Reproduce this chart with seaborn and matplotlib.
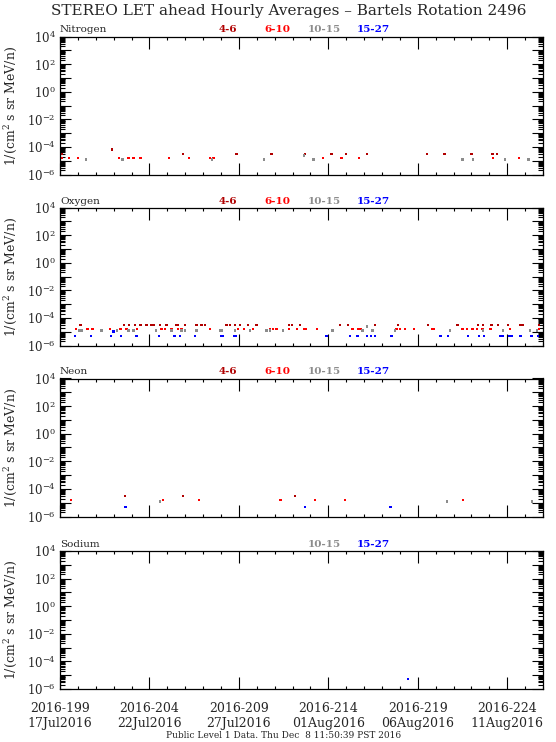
import datetime as dt
import numpy as np
import pandas as pd
import matplotlib
matplotlib.use("Agg")
import matplotlib.pyplot as plt
import seaborn as sns
from matplotlib.ticker import FixedLocator, FuncFormatter, NullFormatter

# ---------------- data (day of year 2016, flux 1/(cm^2 s sr MeV/n)) ----------------
CHANNELS = ["4-6", "6-10", "10-15", "15-27"]
CH_COLORS = ["#b00000", "#ff0000", "#8c8c8c", "#0000ff"]
ELEMENTS = ["Nitrogen", "Oxygen", "Neon", "Sodium"]

N_46_DAY = [199.10, 201.90, 205.87, 208.87, 210.83, 212.70, 214.18, 215.00, 216.17,
            219.50, 220.50, 222.00, 223.17, 223.43]
N_46_VAL = [3.0e-5, 6.5e-5, 3.0e-5, 3.0e-5, 3.0e-5, 3.0e-5, 3.0e-5, 3.0e-5, 3.0e-5,
            3.0e-5, 3.0e-5, 3.0e-5, 3.0e-5, 3.0e-5]
N_610_DAY = [199.10, 199.50, 199.99, 202.30, 202.84, 203.10, 203.50, 205.10, 206.20,
             207.40, 207.57, 213.70, 214.74, 215.70, 223.20, 224.66]
N_610_VAL = [1.6e-5, 1.6e-5, 1.6e-5, 1.6e-5, 1.6e-5, 1.6e-5, 1.6e-5, 1.6e-5, 1.6e-5,
             1.6e-5, 1.6e-5, 1.6e-5, 1.6e-5, 1.6e-5, 1.6e-5, 1.6e-5]
N_1015_DAY = [200.45, 202.50, 207.50, 210.40, 212.63, 213.17, 221.50, 222.10, 223.88, 225.20]
N_1015_VAL = [1.2e-5, 1.2e-5, 1.2e-5, 1.2e-5, 2.4e-5, 1.2e-5, 1.2e-5, 1.2e-5, 1.2e-5, 1.2e-5]
N_1527_DAY = []
N_1527_VAL = []

O_46_DAY = [200.15, 202.58, 202.87, 203.19, 203.50, 203.84, 204.12, 204.25, 204.59, 204.96,
            205.48, 205.60, 205.98, 206.63, 206.91, 207.10, 208.31, 208.50, 208.78, 209.06,
            209.52, 209.99, 211.80, 211.97, 212.40, 214.64, 215.11, 216.60, 217.90, 219.58,
            221.22, 222.37, 222.65, 223.12, 223.49, 224.05, 224.70, 224.85, 225.78]
O_46_VAL = [3.0e-5, 3.0e-5, 3.0e-5, 3.0e-5, 3.0e-5, 3.0e-5, 3.0e-5, 3.0e-5, 3.0e-5, 3.0e-5,
            3.0e-5, 3.0e-5, 3.0e-5, 3.0e-5, 3.0e-5, 3.0e-5, 3.0e-5, 3.0e-5, 3.0e-5, 3.0e-5,
            3.0e-5, 3.0e-5, 3.0e-5, 3.0e-5, 3.0e-5, 3.0e-5, 3.0e-5, 3.0e-5, 3.0e-5, 3.0e-5,
            3.0e-5, 3.0e-5, 3.0e-5, 3.0e-5, 3.0e-5, 3.0e-5, 3.0e-5, 3.0e-5, 3.0e-5]
O_610_DAY = [199.88, 200.53, 200.81, 201.79, 202.39, 202.72, 203.32, 204.68, 204.87, 205.24,
             205.60, 205.80, 207.38, 208.96, 209.30, 209.80, 210.73, 210.92, 211.10, 211.81,
             212.26, 212.63, 212.74, 213.38, 215.35, 215.67, 215.80, 217.81, 218.00, 218.27,
             218.80, 219.82, 219.89, 221.50, 221.76, 222.06, 222.32, 222.61, 223.06, 224.14,
             225.78]
O_610_VAL = [1.6e-5, 1.6e-5, 1.6e-5, 1.6e-5, 1.6e-5, 1.6e-5, 1.6e-5, 1.6e-5, 1.6e-5, 1.6e-5,
             1.6e-5, 1.6e-5, 1.6e-5, 1.6e-5, 1.6e-5, 1.6e-5, 1.6e-5, 1.6e-5, 1.6e-5, 1.6e-5,
             1.6e-5, 1.6e-5, 1.6e-5, 1.6e-5, 1.6e-5, 1.6e-5, 1.6e-5, 1.6e-5, 1.6e-5, 1.6e-5,
             1.6e-5, 1.6e-5, 1.6e-5, 1.6e-5, 1.6e-5, 1.6e-5, 1.6e-5, 1.6e-5, 1.6e-5, 1.6e-5,
             1.6e-5]
O_1015_DAY = [200.06, 200.21, 201.33, 202.17, 202.82, 203.10, 204.36, 205.24, 205.80, 205.98,
              206.63, 207.94, 208.03, 208.78, 209.61, 210.55, 210.73, 211.48, 214.23, 215.91,
              216.17, 216.47, 217.72, 220.79, 222.65, 223.77, 225.26, 225.67]
O_1015_VAL = [1.2e-5, 1.2e-5, 1.2e-5, 1.2e-5, 1.2e-5, 1.2e-5, 1.2e-5, 1.2e-5, 1.2e-5, 1.2e-5,
              1.2e-5, 1.2e-5, 1.2e-5, 1.2e-5, 1.2e-5, 1.2e-5, 1.2e-5, 1.2e-5, 1.2e-5, 1.2e-5,
              2.4e-5, 1.2e-5, 1.2e-5, 1.2e-5, 1.2e-5, 1.2e-5, 1.2e-5, 1.2e-5]
O_1527_DAY = [199.84, 200.73, 201.85, 201.98, 202.41, 203.28, 204.55, 205.40, 205.70, 206.54,
              207.99, 208.09, 208.74, 208.83, 213.86, 213.94, 215.20, 215.63, 216.17, 216.38,
              216.60, 217.53, 220.27, 220.70, 221.81, 222.43, 222.69, 223.58, 223.73, 224.10,
              224.23, 224.75, 225.35, 225.72]
O_1527_VAL = [5.0e-6, 5.0e-6, 5.0e-6, 1.0e-5, 5.0e-6, 5.0e-6, 5.0e-6, 5.0e-6, 5.0e-6, 5.0e-6,
              5.0e-6, 5.0e-6, 5.0e-6, 5.0e-6, 5.0e-6, 5.0e-6, 5.0e-6, 5.0e-6, 5.0e-6, 5.0e-6,
              5.0e-6, 5.0e-6, 5.0e-6, 5.0e-6, 5.0e-6, 5.0e-6, 5.0e-6, 5.0e-6, 5.0e-6, 5.0e-6,
              5.0e-6, 5.0e-6, 5.0e-6, 5.0e-6]

NE_46_DAY = [202.63, 205.89, 212.13]
NE_46_VAL = [3.0e-5, 3.0e-5, 3.0e-5]
NE_610_DAY = [199.60, 204.77, 206.77, 211.33, 213.25, 214.92, 221.53]
NE_610_VAL = [1.6e-5, 1.6e-5, 1.6e-5, 1.6e-5, 1.6e-5, 1.6e-5, 1.6e-5]
NE_1015_DAY = [204.59, 220.64, 225.40]
NE_1015_VAL = [1.2e-5, 1.2e-5, 1.2e-5]
NE_1527_DAY = [202.67, 212.69, 217.47]
NE_1527_VAL = [5.0e-6, 5.0e-6, 5.0e-6]

NA_1527_DAY = [218.46]
NA_1527_VAL = [5.0e-6]

MAJOR_DAYS = [199, 204, 209, 214, 219, 224]
DAY_MIN, DAY_MAX = 199, 226

PANEL_DATA = {
    "Nitrogen": [(N_46_DAY, N_46_VAL), (N_610_DAY, N_610_VAL), (N_1015_DAY, N_1015_VAL), (N_1527_DAY, N_1527_VAL)],
    "Oxygen": [(O_46_DAY, O_46_VAL), (O_610_DAY, O_610_VAL), (O_1015_DAY, O_1015_VAL), (O_1527_DAY, O_1527_VAL)],
    "Neon": [(NE_46_DAY, NE_46_VAL), (NE_610_DAY, NE_610_VAL), (NE_1015_DAY, NE_1015_VAL), (NE_1527_DAY, NE_1527_VAL)],
    "Sodium": [([], []), ([], []), ([], []), (NA_1527_DAY, NA_1527_VAL)],
}
LEGEND_SHOWN = {
    "Nitrogen": CHANNELS, "Oxygen": CHANNELS, "Neon": CHANNELS, "Sodium": ["10-15", "15-27"],
}

# ---------------- style ----------------
sns.set_theme(style="ticks")
plt.rcParams["font.family"] = ["DejaVu Serif"]
plt.rcParams["mathtext.fontset"] = "dejavuserif"
plt.rcParams["axes.edgecolor"] = "black"
plt.rcParams["axes.linewidth"] = 0.9

W, H = 556, 742
fig = plt.figure(figsize=(W / 100, H / 100), dpi=100)
fig.patch.set_facecolor("white")

left_px, right_px = 60, 543
tops_px = [36.5, 207.5, 378.5, 551.0]
height_px = 138.0
palette = dict(zip(CHANNELS, CH_COLORS))
legend_x_px = {"4-6": 228, "6-10": 277, "10-15": 324, "15-27": 373}


def exp_fmt(v, pos):
    e = int(round(np.log10(v)))
    if e % 2 != 0:
        return ""
    return r"$10^{%d}$" % e


def day_label(d):
    date = dt.date(2016, 1, 1) + dt.timedelta(days=d - 1)
    return "2016-%03d\n%s" % (d, date.strftime("%d%b%Y"))


for i, elem in enumerate(ELEMENTS):
    top = tops_px[i]
    ax = fig.add_axes([left_px / W, 1 - (top + height_px) / H,
                       (right_px - left_px) / W, height_px / H])
    frames = []
    for ch, (days, vals) in zip(CHANNELS, PANEL_DATA[elem]):
        frames.append(pd.DataFrame({"day": days, "flux": vals, "channel": ch}))
    df = pd.concat(frames, ignore_index=True)
    df = df[df["day"].notna()]
    if len(df):
        sns.scatterplot(data=df, x="day", y="flux", hue="channel", hue_order=CHANNELS,
                        palette=palette, marker="s", s=3, linewidth=0, legend=False, ax=ax)
    ax.set_yscale("log")
    ax.set_ylim(1e-6, 1e4)
    ax.set_xlim(DAY_MIN, DAY_MAX)
    ax.set_xlabel("")
    ax.set_ylabel("")

    ax.yaxis.set_major_locator(FixedLocator([10.0 ** e for e in range(-6, 5)]))
    ax.yaxis.set_major_formatter(FuncFormatter(exp_fmt))
    ax.yaxis.set_minor_locator(FixedLocator([m * 10.0 ** e for e in range(-6, 4) for m in range(2, 10)]))
    ax.yaxis.set_minor_formatter(NullFormatter())

    ax.xaxis.set_major_locator(FixedLocator(MAJOR_DAYS))
    ax.xaxis.set_minor_locator(FixedLocator(list(range(DAY_MIN, DAY_MAX + 1))))
    if i == len(ELEMENTS) - 1:
        ax.set_xticklabels([day_label(d) for d in MAJOR_DAYS])
    else:
        ax.set_xticklabels([])

    ax.tick_params(axis="both", which="both", direction="in", top=True, right=True,
                   color="black", width=0.8)
    ax.tick_params(axis="y", which="major", length=8, labelsize=8.5, pad=3)
    ax.tick_params(axis="y", which="minor", length=3.5)
    ax.tick_params(axis="x", which="major", length=8.5, labelsize=9, pad=9)
    ax.tick_params(axis="x", which="minor", length=2.5)
    for s in ax.spines.values():
        s.set_visible(True)
        s.set_color("black")

    # element name and channel legend
    fig.text(left_px / W, 1 - (top - 2) / H, elem, ha="left", va="bottom", fontsize=7.5)
    for ch in LEGEND_SHOWN[elem]:
        fig.text(legend_x_px[ch] / W, 1 - (top - 2) / H, ch, ha="center", va="bottom",
                 fontsize=7.5, color=palette[ch], fontweight="bold")
    fig.text(11 / W, 1 - (top + height_px / 2) / H, "1/(cm$^2$ s sr MeV/n)",
             rotation=90, ha="center", va="center", fontsize=9)

fig.text(0.52, 1 - 11 / H, "STEREO LET ahead Hourly Averages \u2013 Bartels Rotation 2496",
         ha="center", va="center", fontsize=11)
fig.text(0.51, 1 - 736 / H, "Public Level 1 Data. Thu Dec  8 11:50:39 PST 2016",
         ha="center", va="center", fontsize=6.5)

fig.savefig("out.png", dpi=100, facecolor="white")
